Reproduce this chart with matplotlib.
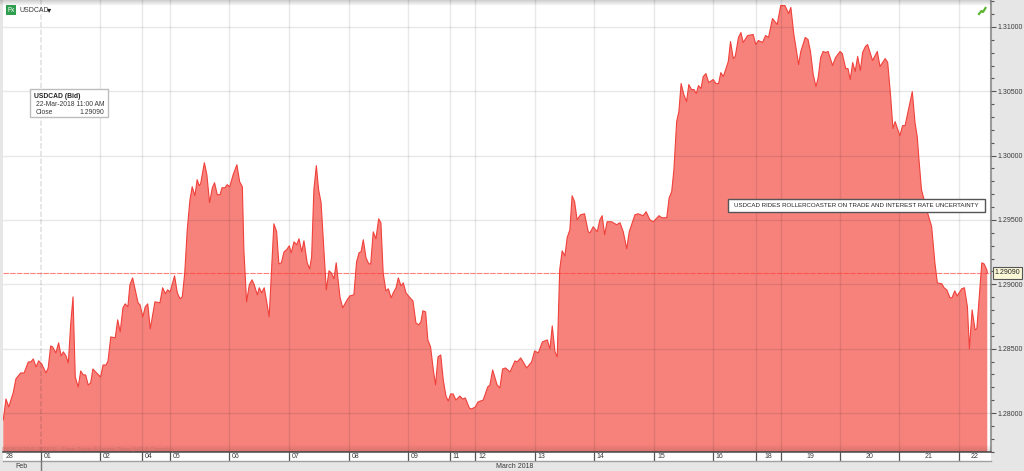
import numpy as np
import matplotlib
matplotlib.use('Agg')
import matplotlib.pyplot as plt
from matplotlib.patches import Rectangle
from matplotlib.ticker import MultipleLocator, FormatStrFormatter

plt.rcParams['font.family'] = ['Liberation Sans', 'DejaVu Sans']

# Trading hours since the start of 01 March (weekend gaps are closed up)
hours = [
    -15.2, -14.1, -13.0, -11.2, -10.1, -8.2, -6.8, -5.1, -4.1, -3.1, -2.0, -0.9, 0.3, 2.0, 2.9, 3.9, 4.7, 6.0, 7.1, 8.1,
    9.0, 10.1, 11.0, 12.0, 12.9, 13.8, 15.0, 16.0, 17.0, 18.0, 19.0, 20.0, 20.9, 22.4, 24.0, 25.0, 26.2, 27.0, 28.1, 29.9,
    30.9, 31.9, 33.0, 33.9, 35.0, 35.8, 36.9, 39.1, 39.9, 41.0, 42.0, 43.0, 44.0, 45.9, 47.9, 49.0, 50.1, 51.0, 52.0, 53.8,
    54.9, 56.0, 56.9, 57.9, 58.9, 60.0, 60.9, 62.0, 62.9, 63.7, 64.3, 65.8, 66.8, 67.9, 69.0, 69.9, 71.0, 72.1, 72.9, 74.1,
    75.0, 76.0, 77.4, 78.9, 80.0, 81.1, 81.7, 82.8, 83.9, 85.0, 85.9, 87.1, 87.9, 88.9, 89.9, 90.9, 91.9, 92.9, 93.8, 94.9,
    95.8, 96.8, 97.9, 98.9, 100.0, 100.8, 101.9, 103.0, 103.9, 105.0, 105.9, 107.2, 108.2, 109.0, 109.9, 110.9, 111.8, 112.8, 114.0, 114.9,
    116.0, 116.9, 118.0, 118.9, 120.4, 121.5, 123.3, 124.4, 126.0, 127.1, 128.1, 128.9, 129.8, 130.9, 132.0, 132.8, 133.8, 134.9, 136.0, 136.9,
    137.8, 138.9, 139.9, 141.0, 141.9, 143.0, 143.9, 145.0, 145.9, 147.0, 148.3, 149.8, 151.0, 152.1, 153.0, 153.8, 154.9, 155.8, 156.9, 158.0,
    158.9, 159.9, 161.0, 162.0, 163.1, 164.0, 165.0, 166.0, 167.1, 168.7, 169.8, 170.9, 172.5, 173.4, 174.9, 176.0, 178.1, 179.9, 180.8, 181.9,
    183.7, 184.8, 185.9, 187.1, 188.9, 190.9, 191.8, 193.2, 194.2, 195.6, 197.6, 198.8, 200.3, 201.9, 203.9, 205.0, 205.9, 207.0, 207.9, 208.9,
    209.9, 211.0, 211.9, 213.0, 213.9, 214.9, 215.9, 217.3, 218.9, 220.4, 221.1, 222.4, 224.0, 225.1, 226.0, 227.0, 228.0, 229.8, 231.8, 233.2,
    234.5, 235.9, 236.9, 239.2, 240.5, 242.5, 243.7, 245.2, 246.6, 248.9, 250.0, 252.0, 253.0, 254.0, 254.9, 256.0, 256.9, 257.8, 258.9, 260.0,
    260.9, 262.0, 263.0, 263.9, 264.8, 265.8, 266.7, 267.8, 268.9, 270.7, 271.8, 272.9, 273.8, 274.8, 276.8, 277.7, 278.8, 279.6, 280.9, 281.9,
    282.8, 284.6, 286.8, 287.9, 288.9, 290.6, 291.8, 293.0, 294.6, 296.5, 297.9, 299.6, 301.1, 302.0, 303.2, 304.0, 305.1, 306.0, 307.8, 308.9,
    309.9, 311.0, 312.1, 313.0, 314.0, 315.0, 316.1, 317.0, 318.8, 320.0, 321.8, 322.7, 324.1, 325.0, 325.9, 326.9, 327.9, 328.9, 330.0, 330.9,
    332.0, 332.9, 334.9, 336.8, 337.9, 340.0, 341.0, 342.2, 343.1, 344.0, 345.9, 347.0, 348.0, 349.1, 350.9, 352.0, 352.9, 353.6, 354.6, 356.7,
    358.7, 360.0, 361.0, 362.8, 363.7, 364.8, 366.1, 366.9, 368.0, 369.0, 370.8, 371.9, 373.1, 373.9, 375.0, 376.2, 376.9, 377.7, 378.9, 379.8,
    380.9, 381.1,
]

# USDCAD bid close
close = [
    1.27946, 1.28109, 1.28047, 1.28156, 1.28265, 1.28311, 1.28311, 1.28397, 1.28397, 1.28420, 1.28358, 1.28405, 1.28381, 1.28311, 1.28350, 1.28521, 1.28513, 1.28467, 1.28545, 1.28443,
    1.28475, 1.28443, 1.28389, 1.28700, 1.28902, 1.28280, 1.28202, 1.28327, 1.28296, 1.28296, 1.28218, 1.28233, 1.28342, 1.28311, 1.28280, 1.28373, 1.28373, 1.28405, 1.28591, 1.28584,
    1.28724, 1.28630, 1.28817, 1.28848, 1.28825, 1.28996, 1.29050, 1.28856, 1.28840, 1.28747, 1.28825, 1.28848, 1.28654, 1.28864, 1.28856, 1.28973, 1.28926, 1.28957, 1.28941, 1.29066,
    1.28934, 1.28887, 1.28902, 1.29089, 1.29424, 1.29657, 1.29758, 1.29688, 1.29813, 1.29766, 1.29782, 1.29945, 1.29852, 1.29634, 1.29750, 1.29789, 1.29696, 1.29696, 1.29750, 1.29750,
    1.29774, 1.29758, 1.29852, 1.29929, 1.29797, 1.29758, 1.29268, 1.28864, 1.28996, 1.29035, 1.28996, 1.28918, 1.28973, 1.28934, 1.28973, 1.28864, 1.28747, 1.29136, 1.29470, 1.29408,
    1.29159, 1.29167, 1.29253, 1.29268, 1.29299, 1.29245, 1.29330, 1.29307, 1.29354, 1.29253, 1.29338, 1.29167, 1.29120, 1.29214, 1.29735, 1.29922, 1.29735, 1.29634, 1.29245, 1.28957,
    1.29105, 1.29089, 1.29043, 1.29167, 1.28902, 1.28817, 1.28879, 1.28910, 1.28918, 1.29175, 1.29245, 1.29253, 1.29346, 1.29206, 1.29159, 1.29159, 1.29408, 1.29354, 1.29509, 1.29478,
    1.29089, 1.28949, 1.28965, 1.28895, 1.28934, 1.28973, 1.29050, 1.28988, 1.29011, 1.28934, 1.28902, 1.28871, 1.28700, 1.28685, 1.28708, 1.28794, 1.28786, 1.28568, 1.28513, 1.28335,
    1.28218, 1.28436, 1.28451, 1.28257, 1.28132, 1.28093, 1.28148, 1.28148, 1.28101, 1.28132, 1.28109, 1.28117, 1.28039, 1.28031, 1.28047, 1.28086, 1.28101, 1.28202, 1.28218, 1.28335,
    1.28218, 1.28195, 1.28342, 1.28350, 1.28319, 1.28405, 1.28397, 1.28428, 1.28397, 1.28350, 1.28397, 1.28482, 1.28467, 1.28552, 1.28568, 1.28498, 1.28677, 1.28475, 1.28436, 1.29113,
    1.29260, 1.29221, 1.29362, 1.29424, 1.29688, 1.29642, 1.29502, 1.29540, 1.29548, 1.29408, 1.29400, 1.29447, 1.29408, 1.29502, 1.29533, 1.29385, 1.29486, 1.29486, 1.29463, 1.29478,
    1.29408, 1.29276, 1.29408, 1.29540, 1.29548, 1.29533, 1.29564, 1.29502, 1.29486, 1.29533, 1.29517, 1.29517, 1.29673, 1.29719, 1.29891, 1.30264, 1.30342, 1.30560, 1.30474, 1.30420,
    1.30552, 1.30513, 1.30513, 1.30482, 1.30544, 1.30521, 1.30614, 1.30637, 1.30567, 1.30591, 1.30560, 1.30560, 1.30645, 1.30614, 1.30731, 1.30886, 1.30754, 1.30770, 1.30918, 1.30956,
    1.30879, 1.30933, 1.30941, 1.30863, 1.30894, 1.30879, 1.30933, 1.30918, 1.31065, 1.31019, 1.31166, 1.31166, 1.31104, 1.31151, 1.30941, 1.30847, 1.30707, 1.30809, 1.30918, 1.30902,
    1.30809, 1.30630, 1.30536, 1.30606, 1.30762, 1.30809, 1.30801, 1.30809, 1.30700, 1.30762, 1.30809, 1.30793, 1.30676, 1.30676, 1.30591, 1.30723, 1.30653, 1.30770, 1.30661, 1.30801,
    1.30847, 1.30863, 1.30739, 1.30809, 1.30692, 1.30754, 1.30723, 1.30458, 1.30210, 1.30264, 1.30155, 1.30233, 1.30233, 1.30334, 1.30497, 1.30256, 1.30147, 1.29968, 1.29735, 1.29579,
    1.29447, 1.29167, 1.29011, 1.29004, 1.28973, 1.28957, 1.28895, 1.28895, 1.28949, 1.28910, 1.28965, 1.28973, 1.28825, 1.28498, 1.28801, 1.28646, 1.28654, 1.28856, 1.29167, 1.29159,
    1.29113, 1.29090,
]

day_ticks = [0, 23.8, 40.7, 52, 75.7, 99.9, 124, 147.8, 164.7, 174.8, 198.9, 222.7, 246.9, 270.6, 287.9, 298, 321.8, 345.5, 369.7]
day_labels = ['01', '02', '04', '05', '06', '07', '08', '09', '11', '12', '13', '14', '15', '16', '18', '19', '20', '21', '22']
last_close = 1.29090
headline = 'USDCAD RIDES ROLLERCOASTER ON TRADE AND INTEREST RATE UNCERTAINTY'

RED = '#f0413b'
FILL = '#f7827c'
TXT = '#3a3a3a'
W, H = 1024, 471

fig = plt.figure(figsize=(W / 100, H / 100), dpi=100, facecolor='#e6e6e6')

# main price panel
ax = fig.add_axes([3 / W, 1 - 452 / H, 988 / W, 452 / H])
ax.set_xlim(-15.3, 382.6)
ax.set_ylim(1.27697, 1.31209)
ax.fill_between(hours, close, 1.27, color=FILL, lw=0, zorder=2)
ax.plot(hours, close, color=RED, lw=0.8, zorder=4)
for d in day_ticks[1:]:
    ax.axvline(d, color='k', alpha=0.09, lw=1.0, zorder=3)
ax.set_yticks([1.28, 1.285, 1.29, 1.295, 1.30, 1.305, 1.31])
ax.yaxis.set_major_formatter(FormatStrFormatter('%.5f'))
ax.yaxis.set_minor_locator(MultipleLocator(0.001))
ax.yaxis.tick_right()
ax.tick_params(axis='y', which='major', labelsize=5.0, length=3.5, width=0.8, color='#555555', labelcolor=TXT, pad=1.5)
ax.tick_params(axis='y', which='minor', length=2.2, width=0.8, color='#555555')
ax.grid(axis='y', color='k', alpha=0.09, lw=1.0, zorder=3)
ax.set_axisbelow(False)
ax.set_xticks([])
ax.axvline(day_ticks[0], color='k', alpha=0.1, lw=1.3, ls=(0, (3, 1.2)), zorder=3)
ax.axhline(last_close, color='#ff3b35', lw=0.8, ls=(0, (5, 1)), alpha=0.65, zorder=5)
for name in ['top', 'left', 'bottom']:
    ax.spines[name].set_visible(False)
ax.spines['right'].set_color('#9a9a9a')
ax.spines['right'].set_linewidth(1.5)

# day strip
ax_day = fig.add_axes([3 / W, 1 - 461 / H, 988 / W, 9 / H])
ax_day.set_xlim(ax.get_xlim())
ax_day.set_ylim(0, 1)
ax_day.set_xticks([])
ax_day.set_yticks([])
for name in ax_day.spines:
    ax_day.spines[name].set_visible(False)
ax_day.spines['top'].set_visible(True)
ax_day.spines['top'].set_color('#555555')
ax_day.spines['top'].set_linewidth(1.2)
ax_day.spines['bottom'].set_visible(True)
ax_day.spines['bottom'].set_color('#a0a0a0')
ax_day.spines['bottom'].set_linewidth(1.0)
for d in day_ticks:
    ax_day.axvline(d, color='#555555', lw=0.9)
ax_day.annotate('28', (-15.3, 0.45), xytext=(3, 0), textcoords='offset pixels', fontsize=5.0, color=TXT, va='center')
for i, (d, lab) in enumerate(zip(day_ticks, day_labels)):
    if i >= 14:
        # the later day cells have their labels centred
        end = day_ticks[i + 1] if i + 1 < len(day_ticks) else 382.6
        ax_day.text((d + end) / 2, 0.45, lab, fontsize=5.0, color=TXT, ha='center', va='center')
    else:
        ax_day.annotate(lab, (d, 0.45), xytext=(3, 0), textcoords='offset pixels', fontsize=5.0, color=TXT, va='center')

# overlay in pixel coordinates for the terminal furniture
ov = fig.add_axes([0, 0, 1, 1], facecolor='none')
top_shade = np.linspace(0.2, 0, 32).reshape(-1, 1)
ov.imshow(np.dstack([np.zeros((32, 1, 3)), top_shade]), extent=(0, 991, 6, 0), aspect='auto', zorder=1)
low_shade = np.linspace(0, 0.13, 32).reshape(-1, 1)
ov.imshow(np.dstack([np.zeros((32, 1, 3)), low_shade]), extent=(3, 991, 452, 444), aspect='auto', zorder=1)
ov.set_xlim(0, W)
ov.set_ylim(H, 0)
ov.axis('off')

ov.text(2, 449, 'INDICATIVE PRICE   Time Zone: Eastern Time (US & Canada)', fontsize=4.4, color='#cf6f6a', va='center', zorder=2)

# month strip
ov.plot([41, 41], [461, 471], color='#777777', lw=1.0, zorder=2)
ov.text(21, 466.5, 'Feb', fontsize=5.0, color=TXT, ha='center', va='center')
ov.text(515, 466.5, 'March 2018', fontsize=5.0, color=TXT, ha='center', va='center')

# symbol badge
ov.add_patch(Rectangle((6, 5), 10, 10, fc='#2f9e4f', ec='none', zorder=3))
ov.text(11, 10.2, 'Fx', fontsize=4.8, color='white', ha='center', va='center', zorder=4)
ov.text(19, 10, 'USDCAD', fontsize=5.0, color=TXT, va='center', zorder=4)
ov.text(49.5, 9.5, '\u25be', fontsize=6, color='#222222', ha='center', va='center', zorder=4, family='DejaVu Sans')

# hover box
ov.add_patch(Rectangle((30, 89), 78, 28, fc='white', ec='#bdbdbd', lw=1.0, zorder=3))
ov.text(34, 96, 'USDCAD (Bid)', fontsize=4.85, color='#222222', weight='bold', va='center', zorder=4)
ov.text(36, 104, '22-Mar-2018 11:00 AM', fontsize=4.9, color=TXT, va='center', zorder=4)
ov.text(36, 112, 'Close', fontsize=4.9, color=TXT, va='center', zorder=4)
ov.text(104, 112, f'{last_close:.5f}', fontsize=4.9, color=TXT, ha='right', va='center', zorder=4)

# headline box
ov.add_patch(Rectangle((727.5, 199), 257.5, 13, fc='white', ec='#555555', lw=1.0, zorder=6))
ov.text(856, 205.5, headline, fontsize=4.45, color='#222222', ha='center', va='center', zorder=7)

# last price flag
ov.add_patch(Rectangle((993, 267), 29, 12, fc='#fbf8d8', ec='#555555', lw=0.8, zorder=6))
ov.text(1007.5, 273, f'{last_close:.5f}', fontsize=5.0, color='#222222', ha='center', va='center', zorder=7)

# small trend arrow, top right
ov.plot([979, 981.5, 983, 985.5], [14, 11, 12, 8], color='#5cb531', lw=1.6, zorder=6)

fig.savefig('out.png', dpi=100, facecolor=fig.get_facecolor())
